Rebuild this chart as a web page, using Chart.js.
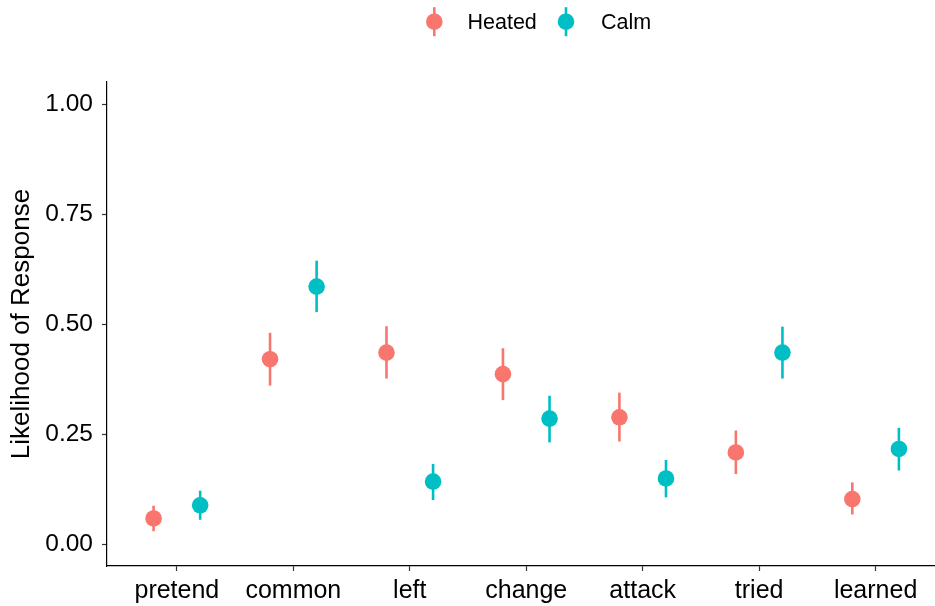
<!DOCTYPE html>
<html>
<head>
<meta charset="utf-8">
<style>
  html, body { margin: 0; padding: 0; background: #ffffff; overflow: hidden; }
  #wrap { width: 935px; height: 606px; position: relative; }
</style>
<script src="https://cdn.jsdelivr.net/npm/chart.js@4.4.1/dist/chart.umd.min.js"></script>
</head>
<body>
<div id="wrap"><canvas id="chart" width="935" height="606"></canvas></div>
<script>
// Words shown on the horizontal axis
const categories = ["pretend", "common", "left", "change", "attack", "tried", "learned"];

// Heated condition: estimate with lower / upper interval bounds
const heatedMean  = [0.058, 0.420, 0.435, 0.386, 0.288, 0.208, 0.102];
const heatedLower = [0.029, 0.360, 0.376, 0.327, 0.233, 0.159, 0.067];
const heatedUpper = [0.087, 0.480, 0.495, 0.445, 0.344, 0.258, 0.140];

// Calm condition: estimate with lower / upper interval bounds
const calmMean  = [0.088, 0.585, 0.142, 0.285, 0.149, 0.435, 0.216];
const calmLower = [0.055, 0.527, 0.100, 0.231, 0.106, 0.376, 0.167];
const calmUpper = [0.121, 0.644, 0.182, 0.337, 0.191, 0.494, 0.264];

const yTicks = [0, 0.25, 0.5, 0.75, 1];
const seriesNames = ["Heated", "Calm"];
const seriesColors = ["#F8766D", "#00BFC4"];

const DODGE = 0.2;
const FONT = "'Liberation Sans', Arial, Helvetica, sans-serif";

function toPoints(means, lows, highs, shift) {
  return means.map((m, i) => ({ x: i + shift, y: m, lo: lows[i], hi: highs[i] }));
}

// Vertical interval lines behind each point
const errorBars = {
  id: 'errorBars',
  beforeDatasetsDraw(chart) {
    const { ctx, scales: { x, y } } = chart;
    ctx.save();
    chart.data.datasets.forEach(ds => {
      ctx.strokeStyle = ds.backgroundColor;
      ctx.lineWidth = 2.6;
      ctx.lineCap = 'butt';
      ds.data.forEach(p => {
        const px = x.getPixelForValue(p.x);
        ctx.beginPath();
        ctx.moveTo(px, y.getPixelForValue(p.lo));
        ctx.lineTo(px, y.getPixelForValue(p.hi));
        ctx.stroke();
      });
    });
    ctx.restore();
  }
};

// Legend across the top: point with a vertical stroke, then the series name
const topLegend = {
  id: 'topLegend',
  afterDraw(chart) {
    const { ctx } = chart;
    const items = [
      { mx: 434.3, tx: 467.5 },
      { mx: 566.0, tx: 601.0 }
    ];
    ctx.save();
    ctx.font = "21.5px " + FONT;
    ctx.textBaseline = 'middle';
    ctx.textAlign = 'left';
    items.forEach((it, k) => {
      const cy = 21.7;
      ctx.strokeStyle = seriesColors[k];
      ctx.lineWidth = 2.6;
      ctx.beginPath();
      ctx.moveTo(it.mx, cy - 14.5);
      ctx.lineTo(it.mx, cy + 14.5);
      ctx.stroke();
      ctx.fillStyle = seriesColors[k];
      ctx.beginPath();
      ctx.arc(it.mx, cy, 8.3, 0, Math.PI * 2);
      ctx.fill();
      ctx.fillStyle = '#000000';
      ctx.fillText(seriesNames[k], it.tx, cy + 1);
    });
    ctx.restore();
  }
};

new Chart(document.getElementById('chart'), {
  type: 'scatter',
  data: {
    datasets: [
      {
        label: seriesNames[0],
        data: toPoints(heatedMean, heatedLower, heatedUpper, -DODGE),
        backgroundColor: seriesColors[0],
        borderColor: seriesColors[0],
        borderWidth: 0,
        pointRadius: 8.3,
        pointHoverRadius: 8.3
      },
      {
        label: seriesNames[1],
        data: toPoints(calmMean, calmLower, calmUpper, DODGE),
        backgroundColor: seriesColors[1],
        borderColor: seriesColors[1],
        borderWidth: 0,
        pointRadius: 8.3,
        pointHoverRadius: 8.3
      }
    ]
  },
  options: {
    responsive: false,
    animation: false,
    events: [],
    layout: { autoPadding: false, padding: { top: 82, left: 0, right: 0, bottom: 0 } },
    plugins: {
      legend: { display: false },
      tooltip: { enabled: false }
    },
    scales: {
      x: {
        type: 'linear',
        min: -0.6,
        max: 6.51,
        afterBuildTicks: axis => { axis.ticks = categories.map((c, i) => ({ value: i })); },
        afterFit: axis => {
          axis.height = 40;
          axis.paddingLeft = 0;
          axis.paddingRight = 0;
        },
        ticks: {
          autoSkip: false,
          maxRotation: 0,
          color: '#000000',
          padding: 5,
          font: { family: FONT, size: 25 },
          callback: v => categories[v]
        },
        grid: {
          display: true,
          drawOnChartArea: false,
          drawTicks: true,
          tickLength: 5,
          tickColor: '#333333',
          tickWidth: 1.2
        },
        border: { display: true, color: '#000000', width: 1.2 }
      },
      y: {
        type: 'linear',
        min: -0.05,
        max: 1.05,
        afterBuildTicks: axis => { axis.ticks = yTicks.map(v => ({ value: v })); },
        afterFit: axis => {
          axis.width = 107;
          axis.paddingTop = 0;
          axis.paddingBottom = 0;
        },
        ticks: {
          color: '#000000',
          padding: 9,
          font: { family: FONT, size: 24.5 },
          callback: v => Number(v).toFixed(2)
        },
        grid: {
          display: true,
          drawOnChartArea: false,
          drawTicks: true,
          tickLength: 5,
          tickColor: '#333333',
          tickWidth: 1.2
        },
        border: { display: true, color: '#000000', width: 1.2 },
        title: {
          display: true,
          text: 'Likelihood of Response',
          color: '#000000',
          font: { family: FONT, size: 26 },
          padding: { top: 6, bottom: 0 }
        }
      }
    }
  },
  plugins: [errorBars, topLegend]
});
</script>
</body>
</html>
